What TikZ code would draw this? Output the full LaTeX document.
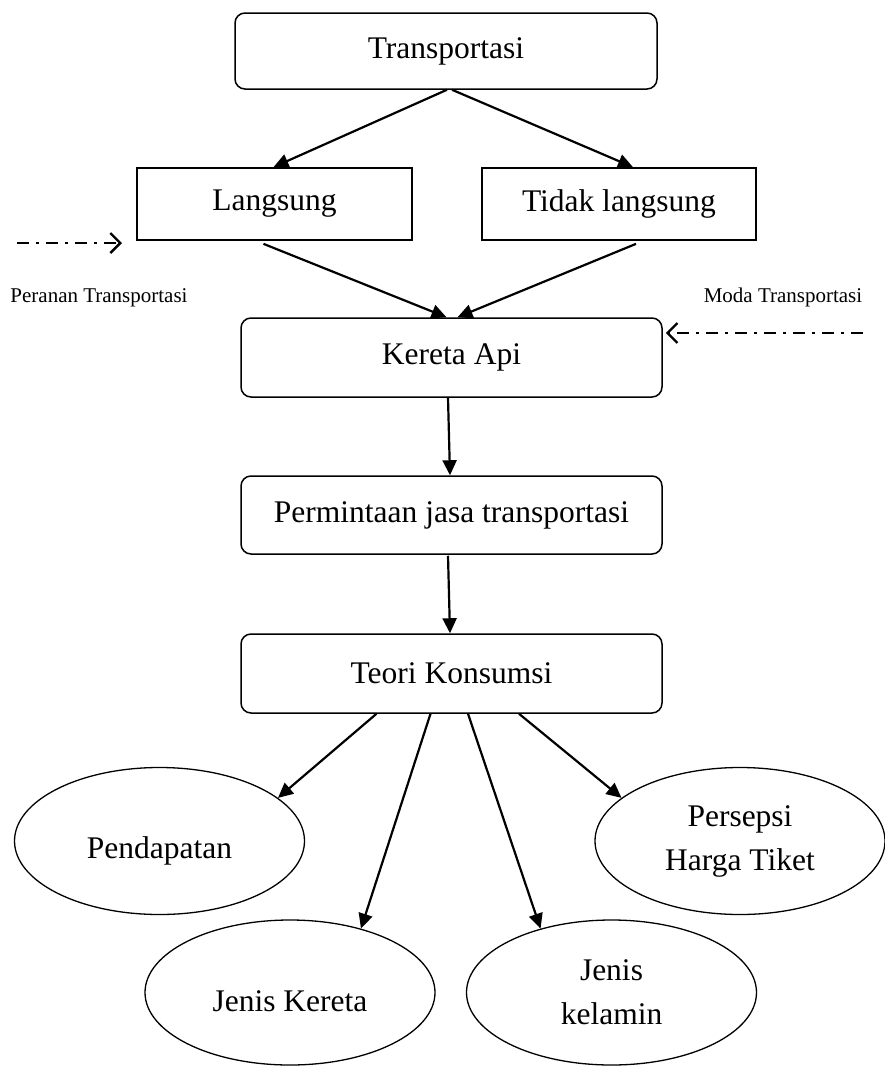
\documentclass[tikz,border=0pt]{standalone}
\usepackage{fontspec}
\setmainfont{Liberation Serif}
\usetikzlibrary{arrows.meta,shapes.geometric,calc}
\begin{document}
\begin{tikzpicture}[x=1pt,y=-1pt,
  rbox/.style={draw, line width=1.5pt, rounded corners=10pt, minimum width=421pt, minimum height=78pt, inner sep=0pt, font=\fontsize{31.5}{36}\selectfont},
  sbox/.style={draw, line width=1.7pt, minimum width=275pt, minimum height=72pt, inner sep=0pt, font=\fontsize{31.5}{36}\selectfont},
  oval/.style={draw, ellipse, line width=1.3pt, minimum width=290pt, minimum height=147pt, inner sep=0pt, align=center, font=\fontsize{31.5}{44}\selectfont},
  conn/.style={line width=2.2pt, -{Triangle[length=15pt,width=14pt]}},
  dd/.style={line width=2.4pt, dash pattern=on 12pt off 7pt on 3pt off 7pt, -{Straight Barb[length=10pt,width=20pt]}},
  lbl/.style={font=\fontsize{21}{24}\selectfont, inner sep=0pt}]
\useasboundingbox (0,0) rectangle (885,1066);

% boxes
\node[rbox, minimum width=422pt, minimum height=76pt] (trans) at (446,51) {Transportasi};
\node[sbox] (lang) at (274.5,204) {Langsung};
\node[sbox, minimum width=274pt] (tidak) at (619,204) {Tidak langsung};
\node[rbox, minimum height=79pt] (kereta) at (451.5,357.5) {Kereta Api};
\node[rbox] (perm) at (451.5,515) {Permintaan jasa transportasi};
\node[rbox, minimum height=79pt] (teori) at (451.5,673.5) {Teori Konsumsi};

% ellipses
\node[oval] (pend) at (159.5,841) {\raisebox{-10pt}[\height][\depth]{Pendapatan}};
\node[oval] (pers) at (740,841) {Persepsi\\Harga Tiket};
\node[oval, minimum height=145pt] (jker) at (290,992.5) {\raisebox{-9pt}[\height][\depth]{Jenis Kereta}};
\node[oval, minimum height=145pt] (jkel) at (611.5,992.5) {Jenis\\kelamin};

% side labels
\node[lbl] (peran) at (99,298) {Peranan Transportasi};
\node[lbl] (moda) at (783,297) {Moda Transportasi};
\coordinate (lstart) at (17,243);
\coordinate (ltip) at (122,243);
\coordinate (rstart) at (863,333);

% connectors
\draw[conn] ($(trans.south)+(1,0)$) -- ($(lang.north)+(-1,0)$);
\draw[conn] ($(trans.south)+(6,0)$) -- ($(tidak.north)+(14,0)$);
\draw[conn] ($(lang.south)+(-11,3)$) -- ($(kereta.north)+(-5,0)$);
\draw[conn] ($(tidak.south)+(17,3)$) -- ($(kereta.north)+(6,0)$);
\draw[conn] ($(kereta.south)+(-3.5,0)$) -- ($(perm.north)+(-1.5,0)$);
\draw[conn] ($(perm.south)+(-3.5,1)$) -- ($(teori.north)+(-1.5,0)$);
\draw[conn] ($(teori.south)+(-75,0)$) -- (pend.20);
\draw[conn] ($(teori.south)+(-21,0)$) -- (jker.42);
\draw[conn] ($(teori.south)+(16.5,0)$) -- (jkel.138);
\draw[conn] ($(teori.south)+(67.5,0)$) -- (pers.160);

% dash-dot arrows
\draw[dd] (lstart) -- (ltip);
\draw[dd] (rstart) -- ($(kereta.east |- rstart)+(3,0)$);
\end{tikzpicture}
\end{document}
